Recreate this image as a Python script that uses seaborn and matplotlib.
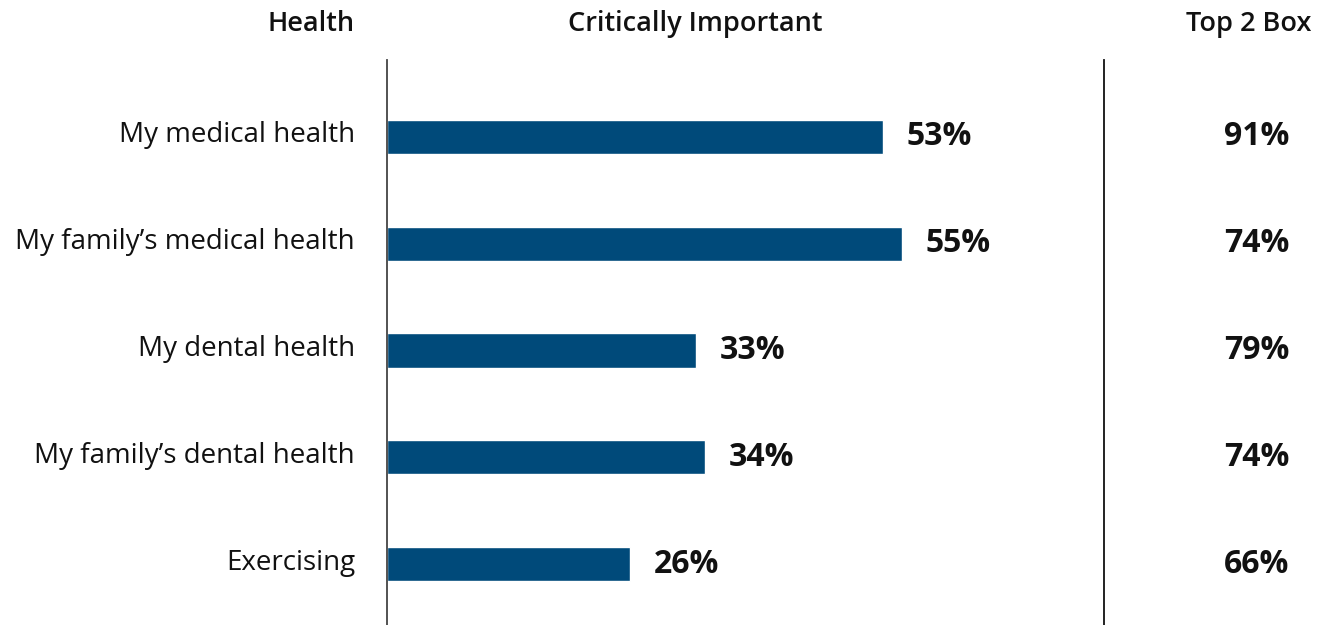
import matplotlib
matplotlib.use("Agg")
import matplotlib.pyplot as plt
import matplotlib.transforms as mtransforms
import seaborn as sns
import pandas as pd

# Data
items = ["My medical health", "My family\u2019s medical health", "My dental health",
         "My family\u2019s dental health", "Exercising"]
critically_important = [53, 55, 33, 34, 26]
top2_box = [91, 74, 79, 74, 66]

sns.set_style("white")
plt.rcParams['font.family'] = ['Open Sans', 'DejaVu Sans']

df = pd.DataFrame({"item": items, "critical": critically_important, "top2": top2_box})

fig = plt.figure(figsize=(13.27, 6.25), dpi=100)
W, H = 1327, 625
ax = fig.add_axes([387 / W, 0, (1104 - 387) / W, (625 - 60) / H])

sns.barplot(data=df, x="critical", y="item", orient="h", color="#004a7a",
            width=0.32, saturation=1, ax=ax)

ax.set_xlim(0, 76.6)
ax.set_ylim(4.57, -0.72)
ax.set_xlabel("")
ax.set_ylabel("")
ax.set_xticks([])
ax.tick_params(axis="y", length=0, pad=23, labelsize=20)
# lift the category labels a little above the bar centres
shift = mtransforms.ScaledTranslation(0, 5 / 100, fig.dpi_scale_trans)
for lbl in ax.get_yticklabels():
    lbl.set_color("#111111")
    lbl.set_transform(lbl.get_transform() + shift)

for side in ["top", "bottom"]:
    ax.spines[side].set_visible(False)
ax.spines["left"].set_color("#444444")
ax.spines["right"].set_color("#111111")
ax.spines["left"].set_linewidth(1.3)
ax.spines["right"].set_linewidth(1.3)

# value labels
for i, v in enumerate(critically_important):
    ax.text(v + 2.5, i, f"{v}%", va="center", ha="left", fontsize=23,
            fontweight="bold", color="#111111")

# top 2 box column
trans = ax.get_yaxis_transform()
for i, v in enumerate(top2_box):
    ax.text(1.213, i, f"{v}%", va="center", ha="center", fontsize=23,
            fontweight="bold", color="#111111", transform=trans, clip_on=False)

# headers
fig.text(355 / W, 1 - 24 / H, "Health", ha="right", va="center", fontsize=19.5,
         fontweight="semibold", color="#111111")
fig.text(695 / W, 1 - 24 / H, "Critically Important", ha="center", va="center",
         fontsize=19.5, fontweight="semibold", color="#111111")
fig.text(1249 / W, 1 - 24 / H, "Top 2 Box", ha="center", va="center", fontsize=19.5,
         fontweight="semibold", color="#111111")

fig.savefig("out.png", dpi=100)
